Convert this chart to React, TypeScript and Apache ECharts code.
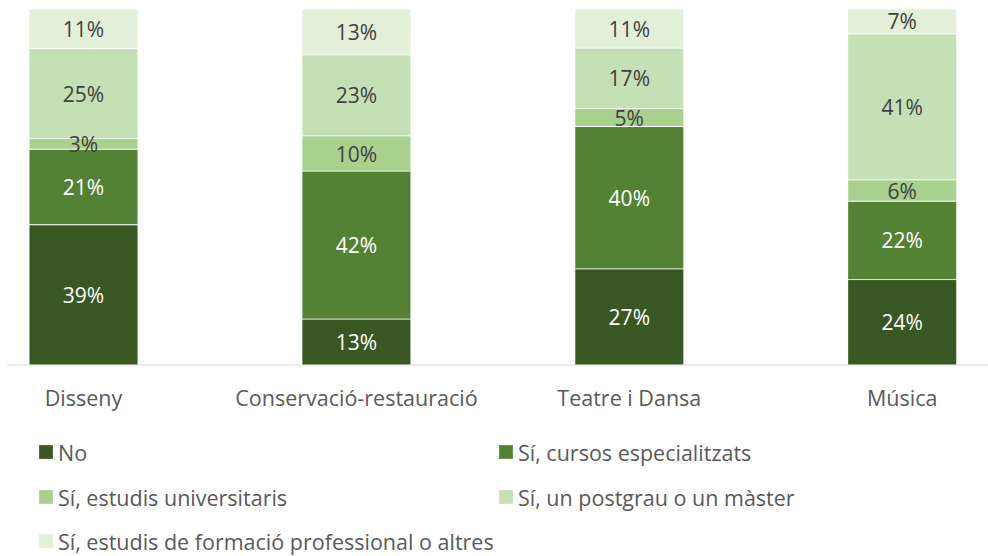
import React, { useEffect, useRef } from "react";
import * as echarts from "echarts";

const categories = ["Disseny", "Conservació-restauració", "Teatre i Dansa", "Música"];
const seriesNames = [
  "No",
  "Sí, cursos especialitzats",
  "Sí, estudis universitaris",
  "Sí, un postgrau o un màster",
  "Sí, estudis de formació professional o altres",
];
const valNo = [39, 13, 27, 24];
const valCursos = [21, 42, 40, 22];
const valUniv = [3, 10, 5, 6];
const valPostgrau = [25, 23, 17, 41];
const valFP = [11, 13, 11, 7];

const rawValues = [valNo, valCursos, valUniv, valPostgrau, valFP];
const colors = ["#385723", "#548235", "#A9D18E", "#C5E0B4", "#E2F0D9"];
const labelColors = ["#ffffff", "#ffffff", "#404040", "#404040", "#404040"];

const FONT = "Open Sans";

export default function App() {
  const ref = useRef<HTMLDivElement>(null);
  useEffect(() => {
    document.body.style.margin = "0";
    if (!ref.current) return;
    const chart = echarts.init(ref.current, null, { renderer: "svg" });
    const totals = categories.map((_, i) => rawValues.reduce((s, arr) => s + arr[i], 0));
    const legendPos = [
      { left: 38, top: 441 },
      { left: 498, top: 441 },
      { left: 38, top: 486 },
      { left: 498, top: 486 },
      { left: 38, top: 530 },
    ];
    chart.setOption({
      animation: false,
      textStyle: { fontFamily: FONT },
      grid: {
        left: -52.95,
        right: -50.65,
        top: 9,
        bottom: 191,
        containLabel: false,
        outerBoundsMode: "none",
      },
      xAxis: {
        type: "category",
        data: categories,
        axisLine: { show: false },
        axisTick: { show: false },
        axisLabel: { color: "#595959", fontSize: 21.5, fontFamily: FONT, margin: 21, interval: 0 },
      },
      yAxis: { type: "value", min: 0, max: 100, show: false, splitLine: { show: false } },
      legend: seriesNames.map((n, i) => ({
        data: [n],
        left: legendPos[i].left,
        top: legendPos[i].top,
        padding: 0,
        icon: "rect",
        itemWidth: 14,
        itemHeight: 14,
        itemGap: 0,
        selectedMode: false,
        textStyle: { color: "#595959", fontSize: 21.5, fontFamily: FONT },
      })),
      graphic: [
        {
          type: "line",
          shape: { x1: 7, y1: 365, x2: 988, y2: 365 },
          style: { stroke: "#d9d9d9", lineWidth: 1 },
          z: 0,
        },
      ],
      series: seriesNames.map((n, si) => ({
        name: n,
        type: "bar",
        stack: "total",
        barWidth: 109,
        data: rawValues[si].map((v, ci) => (v / totals[ci]) * 100),
        itemStyle: { color: colors[si], borderColor: "rgba(255,255,255,0.15)", borderWidth: 0.8 },
        label: {
          show: true,
          position: "inside",
          color: labelColors[si],
          fontSize: 21,
          fontFamily: FONT,
          formatter: (p: any) => `${rawValues[si][p.dataIndex]}%`,
        },
      })),
    });
    return () => chart.dispose();
  }, []);
  return <div ref={ref} style={{ width: 988, height: 556 }} />;
}
